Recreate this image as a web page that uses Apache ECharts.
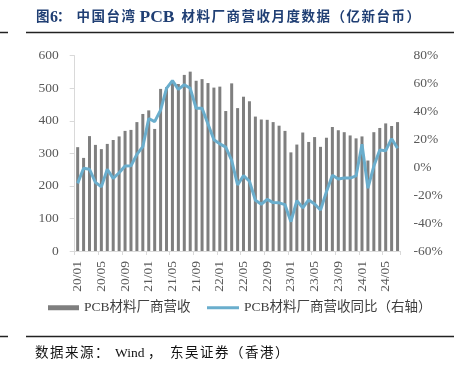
<!DOCTYPE html>
<html>
<head>
<meta charset="utf-8">
<script src="https://cdn.jsdelivr.net/npm/echarts@6/dist/echarts.min.js"></script>
<style>
html, body { margin: 0; padding: 0; background: #fff; }
#chart { width: 454px; height: 367px; }
</style>
</head>
<body>
<div id="chart"></div>
<script>
// 月份
const months = [
  "20/01","20/02","20/03","20/04","20/05","20/06","20/07","20/08","20/09","20/10","20/11","20/12",
  "21/01","21/02","21/03","21/04","21/05","21/06","21/07","21/08","21/09","21/10","21/11","21/12",
  "22/01","22/02","22/03","22/04","22/05","22/06","22/07","22/08","22/09","22/10","22/11","22/12",
  "23/01","23/02","23/03","23/04","23/05","23/06","23/07","23/08","23/09","23/10","23/11","23/12",
  "24/01","24/02","24/03","24/04","24/05","24/06","24/07"
]
// PCB材料厂商营收（亿新台币）
const revenue = [
  319, 286, 353, 326, 313, 329, 341, 352, 369, 372, 396, 421,
  432, 375, 498, 503, 522, 513, 541, 551, 523, 528, 516, 502,
  505, 430, 515, 439, 474, 460, 413, 404, 403, 396, 385, 369,
  303, 327, 364, 335, 350, 320, 348, 381, 371, 365, 355, 346,
  352, 278, 365, 378, 392, 384, 396
]
// 同比（%）
const yoy = [
  -11.5, -0.7, -1.4, -10.8, -13.9, -1.4, -7.9, -3.9, 0.9, 1.1, 9.3, 14.8,
  35, 32.7, 41, 56.6, 62.1, 55.9, 59.2, 56.6, 42.3, 42.3, 31, 19.8,
  16.8, 14.5, 5, -12.7, -6, -10, -23.6, -26.5, -23, -25.3, -25.5, -26.8,
  -39, -24, -29, -23.4, -26.3, -30.6, -17.5, -5.7, -8.4, -7.7, -7.7, -6.2,
  16.5, -15, 0.9, 12.4, 11.9, 20.5, 13.6
]
const leftTicks = { min: 0, max: 600, interval: 100 }
const rightTicks = { min: -60, max: 80, interval: 20 }

const barName = "PCB材料厂商营收"
const lineName = "PCB材料厂商营收同比（右轴）"

const serif = "'Liberation Serif', 'Noto Sans CJK SC'"
const titleColor = "#203f74"
const lineColor = "#6aaecd"
const barColor = "#7f7f7f"
const labelColor = "#595959"

// 标题 / 来源：[文字, x, 字距, 字号]，逐字排，模拟原图字距
const titleParts = [
  ["图", 36, 15, 13.5], ["6", 50, 0, 16], ["：", 57, 15, 13.5], ["中国台湾", 76.5, 15, 13.5],
  ["PCB", 139.5, 0, 17.5],
  ["材料厂商营收月度数据（亿新台币）", 181.5, 15, 13.5]
]
const sourceParts = [
  ["数据来源：", 35, 15, 13.5], ["Wind", 115, 0, 13.5], ["，", 148, 15, 13.5], ["东吴证券（香港）", 170, 15, 13.5]
]

const chart = echarts.init(document.getElementById("chart"))

const graphic = []
const addText = (parts, cy, weight, fill) => {
  parts.forEach(([t, x, pitch, size]) => {
    const chars = pitch ? Array.from(t) : [t]
    chars.forEach((c, i) => {
      graphic.push({
        type: "text", x: x + i * pitch, y: cy,
        style: { text: c, fill: fill, font: weight + " " + size + "px " + serif, verticalAlign: "middle" }
      })
    })
  })
}
addText(titleParts, 17.5, "bold", titleColor)
addText(sourceParts, 353, "normal", "#111")

;[32.5, 336.5].forEach((y) => {
  graphic.push({ type: "line", shape: { x1: 0, y1: y, x2: 8, y2: y }, style: { stroke: "#222", lineWidth: 1.5 } })
  graphic.push({ type: "line", shape: { x1: 26, y1: y, x2: 454, y2: y }, style: { stroke: "#222", lineWidth: 1.5 } })
})

const option = {
  animation: false,
  backgroundColor: "#fff",
  graphic: graphic,
  grid: { left: 74.7, right: 53.5, top: 55.7, bottom: 116 },
  legend: [
    {
      left: 48, top: 301, padding: 0,
      icon: "rect", itemWidth: 31, itemHeight: 5,
      textStyle: { fontFamily: serif, fontSize: 13.5, color: "#404040" },
      data: [{ name: barName, itemStyle: { color: barColor } }]
    },
    {
      left: 207, top: 301, padding: 0,
      icon: "rect", itemWidth: 32, itemHeight: 3,
      textStyle: { fontFamily: serif, fontSize: 13.5, color: "#404040" },
      data: [{ name: lineName, itemStyle: { color: lineColor } }]
    }
  ],
  xAxis: {
    type: "category",
    data: months,
    boundaryGap: true,
    axisLine: { lineStyle: { color: "#d9d9d9", width: 1 } },
    axisTick: { show: true, interval: 3, length: 4, lineStyle: { color: "#d9d9d9" } },
    axisLabel: {
      interval: 3, rotate: 90, margin: 10,
      fontFamily: serif, fontSize: 13.5, color: labelColor
    },
    splitLine: { show: false }
  },
  yAxis: [
    {
      type: "value",
      min: leftTicks.min, max: leftTicks.max, interval: leftTicks.interval,
      axisLine: { show: true, lineStyle: { color: "#d9d9d9" } },
      axisTick: { show: true, length: 5, lineStyle: { color: "#d9d9d9" } },
      axisLabel: { margin: 16, fontFamily: serif, fontSize: 13.5, color: labelColor },
      splitLine: { show: false }
    },
    {
      type: "value",
      min: rightTicks.min, max: rightTicks.max, interval: rightTicks.interval,
      axisLine: { show: false },
      axisTick: { show: false },
      axisLabel: {
        margin: 13, fontFamily: serif, fontSize: 13.5, color: labelColor,
        formatter: (v) => v + "%"
      },
      splitLine: { show: false }
    }
  ],
  series: [
    {
      name: barName,
      type: "bar",
      barWidth: 3,
      itemStyle: { color: barColor },
      data: revenue
    },
    {
      name: lineName,
      type: "line",
      yAxisIndex: 1,
      symbol: "none",
      lineStyle: { color: lineColor, width: 3 },
      itemStyle: { color: lineColor },
      data: yoy
    }
  ]
}
chart.setOption(option)
</script>
</body>
</html>
